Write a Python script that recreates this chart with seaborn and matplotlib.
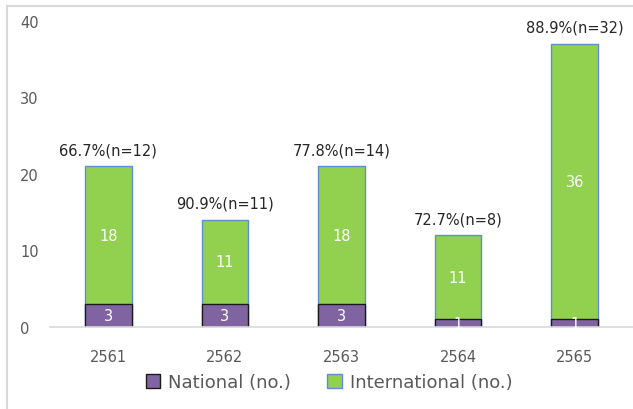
import matplotlib
matplotlib.use("Agg")
import matplotlib.pyplot as plt
import seaborn as sns
import pandas as pd
from matplotlib.patches import Patch, Rectangle

years = ["2561", "2562", "2563", "2564", "2565"]
national = [3, 3, 3, 1, 1]
international = [18, 11, 18, 11, 36]
top_labels = ["66.7%(n=12)", "90.9%(n=11)", "77.8%(n=14)", "72.7%(n=8)", "88.9%(n=32)"]

sns.set_theme(style="white")
plt.rcParams['font.family'] = ['DejaVu Sans']

purple = "#8064A2"
green = "#92D050"
tick_col = "#595959"

fig = plt.figure(figsize=(6.33, 4.10), dpi=100)
ax = fig.add_axes([50/633, 82/410, 583/633, 306/410])

totals = [n + i for n, i in zip(national, international)]
df_tot = pd.DataFrame({"year": years, "value": totals})
df_nat = pd.DataFrame({"year": years, "value": national})

sns.barplot(data=df_tot, x="year", y="value", color=green, width=0.40,
            edgecolor="#5B8FD0", linewidth=1.0, ax=ax, saturation=1)
sns.barplot(data=df_nat, x="year", y="value", color=purple, width=0.40,
            edgecolor="#1a1a1a", linewidth=1.0, ax=ax, saturation=1)

for i in range(len(years)):
    ax.text(i, national[i] / 2, str(national[i]), ha="center", va="center",
            color="white", fontsize=10.5)
    ax.text(i, national[i] + international[i] / 2, str(international[i]),
            ha="center", va="center", color="white", fontsize=10.5)
    ax.text(i, totals[i] + 1.2, top_labels[i], ha="center", va="bottom",
            color="#262626", fontsize=10.5)

ax.set_xlim(-0.5, 4.5)
ax.set_ylim(0, 40)
ax.set_yticks([0, 10, 20, 30, 40])
ax.set_xlabel("")
ax.set_ylabel("")
for s in ["top", "right", "left"]:
    ax.spines[s].set_visible(False)
ax.spines["bottom"].set_color("#d9d9d9")
ax.spines["bottom"].set_linewidth(1.2)
ax.tick_params(axis="both", length=0, labelsize=10.5, colors=tick_col)
ax.tick_params(axis="x", pad=16)
for lab in ax.get_yticklabels():
    lab.set_horizontalalignment("left")
ax.yaxis.set_tick_params(pad=21.5)

handles = [Patch(facecolor=purple, edgecolor="#1a1a1a", label="National (no.)"),
           Patch(facecolor=green, edgecolor="#5B8FD0", label="International (no.)")]
leg = fig.legend(handles=handles, loc="center", bbox_to_anchor=(0.52, 27/410), ncol=2,
                 frameon=False, fontsize=13, handlelength=0.8, handleheight=0.8,
                 columnspacing=2.0, handletextpad=0.45)
for t in leg.get_texts():
    t.set_color(tick_col)

fig.patches.append(Rectangle((7/633, -0.1), 1.2, (410 - 7)/410 + 0.1,
                             transform=fig.transFigure, fill=False,
                             edgecolor="#d9d9d9", linewidth=1.5))

fig.savefig("out.png", dpi=100)
